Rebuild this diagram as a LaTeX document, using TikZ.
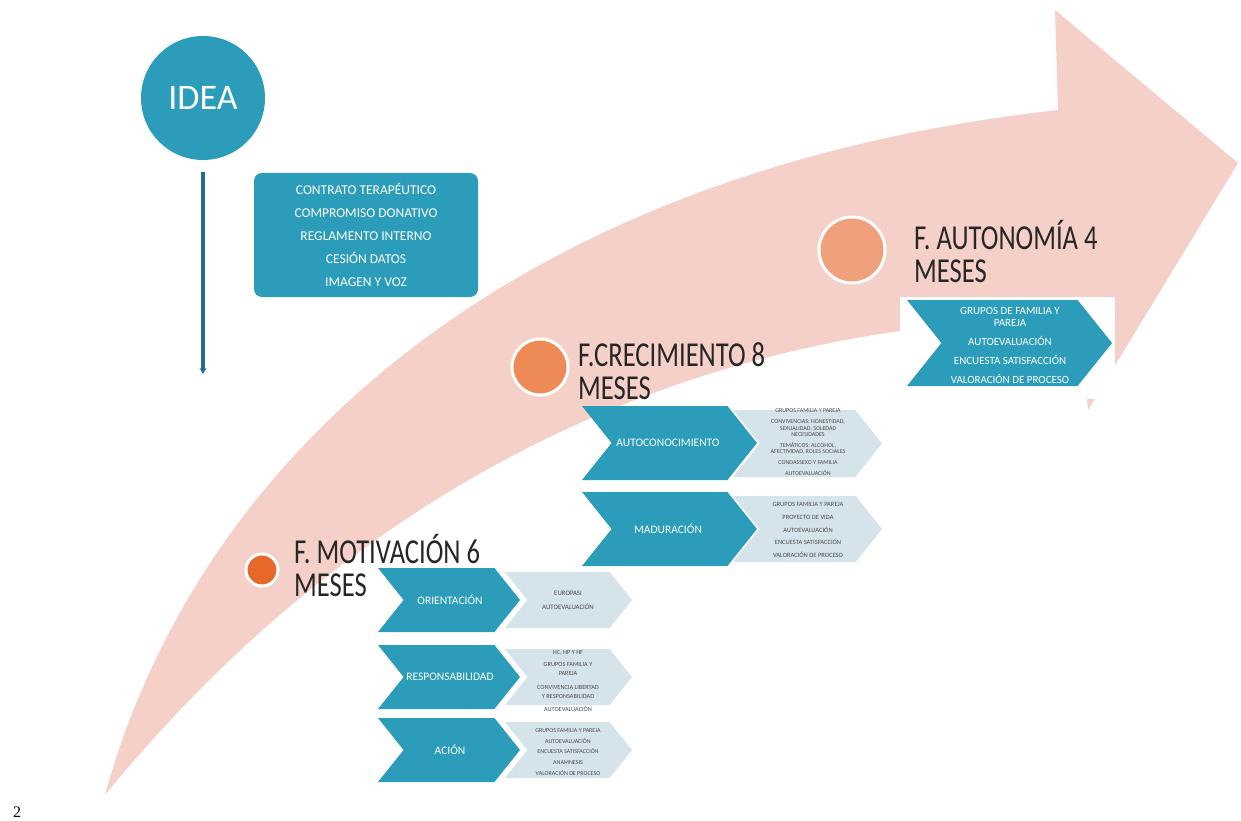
\documentclass[tikz,border=0pt]{standalone}
\usepackage{fontspec}
\setmainfont{Carlito}
\newfontfamily\condfont[FakeStretch=0.76]{Carlito}
\newfontfamily\pagefont{Liberation Serif}
\usetikzlibrary{arrows.meta, positioning}

\definecolor{phaseblue}{RGB}{43,156,186}
\definecolor{arrowpink}{RGB}{245,208,200}
\definecolor{lightstep}{RGB}{213,227,234}
\definecolor{stepgrey}{RGB}{75,75,75}
\definecolor{linkblue}{RGB}{32,112,140}
\definecolor{orangeA}{RGB}{232,104,42}
\definecolor{orangeB}{RGB}{238,138,85}
\definecolor{orangeC}{RGB}{240,160,122}

% chevron: left, top, right, bottom, fill
\newcommand{\chevron}[5]{%
  \fill[#5] (#1,#2) -- ({#3-0.4*(#4-#2)},#2) -- (#3,{(#2+#4)/2})
    -- ({#3-0.4*(#4-#2)},#4) -- (#1,#4) -- ({#1+0.4*(#4-#2)},{(#2+#4)/2}) -- cycle;}

\begin{document}
\begin{tikzpicture}[
    x = 1pt, y = -1pt,
    > = {Stealth[length=6pt, width=7pt]}, % arrow head style
    font = \fontsize{11}{12}\selectfont
]

\tikzset{
    dot/.style = {circle, draw = white, line width = 3pt, inner sep = 0pt},
    phase/.style = {align = left, inner sep = 0pt, text = black!85,
        font = \condfont\fontsize{35}{33}\selectfont},
    steplabel/.style = {text = white, font = \fontsize{11.5}{12}\selectfont},
    stepnote/.style = {align = center, text = stepgrey, inner sep = 0pt},
}

\useasboundingbox (0,0) rectangle (1241,821);

% the big curved arrow
\fill[arrowpink] (105,795) .. controls (200,450) and (520,170) .. (1058,110)
    -- (1055,10) -- (1238,163) -- (1088,410) -- (1080,318)
    .. controls (650,320) and (330,520) .. (105,795) -- cycle;
\fill[white] (900,297) rectangle (1115,399);

% idea and documents
\node[circle, fill = phaseblue, minimum size = 124pt, text = white,
    font = \fontsize{36}{36}\selectfont] (idea) at (203,98) {IDEA};
\coordinate (ideaend) at (203,374);
\draw[->, linkblue, line width = 3.5pt, shorten < = 12pt] (idea) -- (ideaend);

\node[fill = phaseblue, rounded corners = 8pt, minimum width = 224pt,
    minimum height = 124pt, align = center, text = white,
    font = \fontsize{13.5}{23}\selectfont] (docs) at (366,235)
    {CONTRATO TERAPÉUTICO\\COMPROMISO DONATIVO\\REGLAMENTO INTERNO\\CESIÓN DATOS\\IMAGEN Y VOZ};

% phases
\node[dot, fill = orangeC, minimum size = 66pt] (autodot) at (852,250) {};
\node[phase, anchor = west] (autolabel) at (914,252) {F. AUTONOMÍA 4\\MESES};

\node[dot, fill = orangeB, minimum size = 56pt] (growdot) at (540,367) {};
\node[phase, anchor = west] (growlabel) at (578,371) {F.CRECIMIENTO 8\\MESES};

\node[dot, fill = orangeA, minimum size = 32pt] (motdot) at (262,570) {};
\node[phase, anchor = west] (motlabel) at (294,566) {F. MOTIVACIÓN 6\\MESES};

% motivation steps
\chevron{505}{572}{632}{628}{lightstep}
\chevron{505}{649}{632}{705}{lightstep}
\chevron{505}{722}{632}{778}{lightstep}
\chevron{378}{568}{520}{632}{phaseblue}
\chevron{378}{645}{520}{709}{phaseblue}
\chevron{378}{718}{520}{782}{phaseblue}

\node[steplabel] (orient) at (450,600) {ORIENTACIÓN};
\node[steplabel] (resp) at (450,677) {RESPONSABILIDAD};
\node[steplabel] (accion) at (450,750) {ACIÓN};

\node[stepnote, font = \fontsize{6.8}{14}\selectfont] (orientnote) at (568,600)
    {EUROPASI\\AUTOEVALUACIÓN};
\node[stepnote, font = \fontsize{6.3}{9}\selectfont] (respnote) at (568,681)
    {HC, HP Y HF\\[3pt]GRUPOS FAMILIA Y\\PAREJA\\[5pt]CONVIVENCIA LIBERTAD\\Y RESPONSABILIDAD\\[4pt]AUTOEVALUACIÓN};
\node[stepnote, font = \fontsize{6}{10.7}\selectfont] (accionnote) at (568,752)
    {GRUPOS FAMILIA Y PAREJA\\AUTOEVALUACIÓN\\ENCUESTA SATISFACCIÓN\\ANAMNESIS\\VALORACIÓN DE PROCESO};

% growth steps
\chevron{733}{410}{882}{477}{lightstep}
\chevron{733}{496}{882}{562}{lightstep}
\chevron{582}{406}{757}{480}{phaseblue}
\chevron{582}{492}{757}{566}{phaseblue}

\node[steplabel] (selfknow) at (668,443) {AUTOCONOCIMIENTO};
\node[steplabel] (maturity) at (668,529) {MADURACIÓN};

\node[stepnote, font = \fontsize{6}{6.6}\selectfont] (selfknownote) at (808,442)
    {GRUPOS FAMILIA Y PAREJA\\[4pt]CONVIVENCIAS: HONESTIDAD,\\SEXUALIDAD, SOLEDAD\\NECESIDADES\\[4pt]TEMÁTICOS: ALCOHOL,\\AFECTIVIDAD, ROLES SOCIALES\\[4pt]CONDASSEXO Y FAMILIA\\[4pt]AUTOEVALUACIÓN};
\node[stepnote, font = \fontsize{6.5}{12.7}\selectfont] (maturitynote) at (808,530)
    {GRUPOS FAMILIA Y PAREJA\\PROYECTO DE VIDA\\AUTOEVALUACIÓN\\ENCUESTA SATISFACCIÓN\\VALORACIÓN DE PROCESO};

% autonomy step
\chevron{907}{300}{1112}{386}{phaseblue}
\node[stepnote, text = white, font = \fontsize{11}{12}\selectfont] (autonote) at (1010,345)
    {GRUPOS DE FAMILIA Y\\PAREJA\\[7pt]AUTOEVALUACIÓN\\[7pt]ENCUESTA SATISFACCIÓN\\[7pt]VALORACIÓN DE PROCESO};

\node[font = \pagefont\fontsize{16}{16}\selectfont] (pagenum) at (17,812) {2};
\end{tikzpicture}
\end{document}
